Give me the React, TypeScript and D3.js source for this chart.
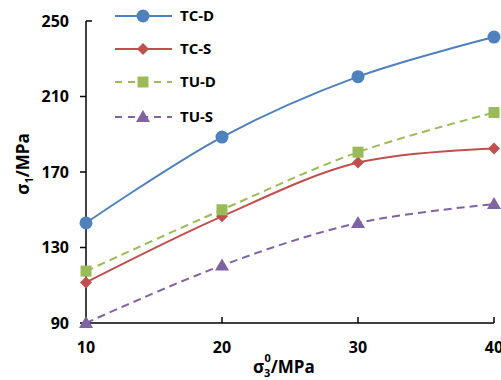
import React from "react";
import * as d3 from "d3";

const xValues = [10, 20, 30, 40];
const tcD = [143, 188.5, 220.5, 241.5];
const tcS = [111.5, 146.5, 175, 182.5];
const tuD = [117.5, 150, 180.5, 201.5];
const tuS = [90, 120.5, 143, 153];
const yTicks = [90, 130, 170, 210, 250];
const seriesNames = ["TC-D", "TC-S", "TU-D", "TU-S"];
const seriesColors = ["#4F81BD", "#C0504D", "#9BBB59", "#8064A2"];
const seriesMarkers = ["circle", "diamond", "square", "triangle"];
const seriesDash = [null, null, "8,5", "8,5"];
const seriesData = [tcD, tcS, tuD, tuS];

const W = 501, H = 380;
const x = d3.scaleLinear().domain([10, 40]).range([86, 494]);
const y = d3.scaleLinear().domain([90, 250]).range([323, 21]);

function marker(kind: string, cx: number, cy: number, color: string, key: any) {
  if (kind === "circle") return <circle key={key} cx={cx} cy={cy} r={6.5} fill={color} />;
  if (kind === "diamond")
    return <path key={key} d={`M${cx},${cy - 6}L${cx + 6},${cy}L${cx},${cy + 6}L${cx - 6},${cy}Z`} fill={color} />;
  if (kind === "square") return <rect key={key} x={cx - 5.5} y={cy - 5.5} width={11} height={11} fill={color} />;
  return <path key={key} d={`M${cx},${cy - 7}L${cx + 7},${cy + 5}L${cx - 7},${cy + 5}Z`} fill={color} />;
}

export default function App() {
  const line = d3
    .line<number>()
    .x((_, i) => x(xValues[i]))
    .y((d) => y(d))
    .curve(d3.curveCatmullRom.alpha(0.5));
  const font = "'Open Sans', sans-serif";
  const legendY = [16, 49, 82, 117];
  return (
    <svg width={W} height={H} style={{ position: "absolute", left: 0, top: 0, background: "#fff" }} fontFamily={font}>
      {/* axes */}
      <line x1={86} x2={86} y1={y(250)} y2={y(90)} stroke="#000" strokeWidth={1.5} />
      <line x1={86} x2={494} y1={y(90)} y2={y(90)} stroke="#000" strokeWidth={1.5} />
      {yTicks.map((t) => (
        <g key={"yt" + t}>
          <line x1={t === 250 ? 86 : 80} x2={t === 250 ? 92 : 86} y1={y(t)} y2={y(t)} stroke="#000" strokeWidth={1.5} />
          <text x={69} y={y(t)} dy="0.35em" textAnchor="end" fontSize={16} fontWeight="bold">
            {t}
          </text>
        </g>
      ))}
      {xValues.map((t) => (
        <g key={"xt" + t}>
          <line x1={x(t)} x2={x(t)} y1={y(90)} y2={y(90) - 6} stroke="#000" strokeWidth={1.5} />
          <text x={x(t)} y={353} textAnchor="middle" fontSize={16} fontWeight="bold">
            {t}
          </text>
        </g>
      ))}
      {/* axis titles */}
      <text transform="translate(29,164) rotate(-90)" textAnchor="middle" fontSize={17} fontWeight="bold">
        σ<tspan fontSize={11} dy={4}>1</tspan>
        <tspan dy={-4}>/MPa</tspan>
      </text>
      <text x={253} y={373} fontSize={17} fontWeight="bold">
        σ<tspan fontSize={11} dy={4}>3</tspan>
        <tspan fontSize={11} dx={-6} dy={-15}>0</tspan>
        <tspan dy={11}>/MPa</tspan>
      </text>
      {/* series */}
      {seriesData.map((s, si) => (
        <g key={"s" + si}>
          <path
            d={line(s) || ""}
            fill="none"
            stroke={seriesColors[si]}
            strokeWidth={2}
            strokeDasharray={seriesDash[si] || undefined}
          />
          {s.map((v, i) => marker(seriesMarkers[si], x(xValues[i]), y(v), seriesColors[si], i))}
        </g>
      ))}
      {/* legend */}
      {seriesNames.map((n, i) => (
        <g key={"lg" + i}>
          <line
            x1={115}
            x2={172}
            y1={legendY[i]}
            y2={legendY[i]}
            stroke={seriesColors[i]}
            strokeWidth={2}
            strokeDasharray={seriesDash[i] ? "7,6" : undefined}
          />
          {marker(seriesMarkers[i], 143, legendY[i], seriesColors[i], "m")}
          <text x={180} y={legendY[i]} dy="0.35em" fontSize={15} fontWeight="bold">
            {n}
          </text>
        </g>
      ))}
    </svg>
  );
}
